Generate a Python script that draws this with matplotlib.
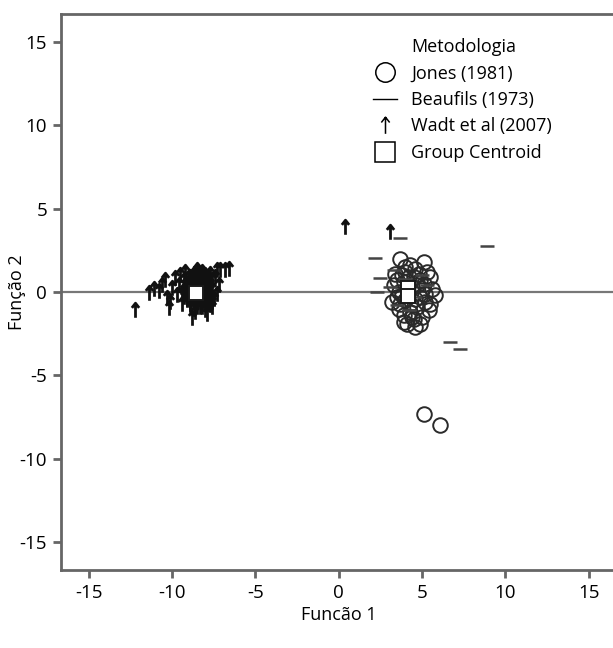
import matplotlib
matplotlib.use("Agg")
import matplotlib.pyplot as plt
from matplotlib.path import Path
from matplotlib.lines import Line2D

plt.rcParams['font.family'] = ['Open Sans', 'DejaVu Sans']
plt.rcParams['axes.unicode_minus'] = False

# Wadt et al (2007) - seta
wadt_x = [-12.2, -11.4, -11.1, -10.8, -10.6, -10.4, -10.3, -10.2, -10.1, -10.0,
          -9.8, -9.7, -9.6, -9.5, -9.4, -9.3, -9.2, -9.1, -8.8, -8.6,
          -7.9, -7.6, -7.3, -7.1, -6.8, -6.6, -7.4, -7.2, -7.5, -7.3,
          -9.0, -9.0, -8.9, -8.9, -8.8, -8.8, -8.7, -8.7, -8.6, -8.6,
          -8.5, -8.5, -8.4, -8.4, -8.3, -8.3, -8.2, -8.2, -8.1, -8.1,
          -8.0, -8.0, -7.9, -7.9, -7.8, -7.8, -7.7, -7.7, -7.6, -7.6,
          -8.6, -8.3, -8.0, -8.8, -7.9, -8.5, -8.2, -9.2, -9.3, -8.95,
          -9.2, -9.1, -9.1, -9.0, -8.9, -8.8, -8.7, -8.7, -8.6, -8.5,
          -8.5, -8.4, -8.4, -8.3, -8.3, -8.2, -8.2, -8.1, -8.1, -8.0,
          -8.0, -7.9, -7.9, -7.8, -7.8, -7.7, -7.7, -9.0, -8.9, -8.6,
          -8.4, -8.0, -7.6, -7.6, -9.3, -9.4,
          0.36, 3.05]
wadt_y = [-1.1, -0.05, 0.2, 0.05, 0.45, 0.75, -0.35, -0.95, -0.6, 0.25,
          0.85, -0.2, 0.45, 1.0, -0.7, 0.1, 1.2, -0.4, -1.55, -1.2,
          -1.3, -0.9, 1.3, 1.35, 1.3, 1.4, 0.9, 0.4, -0.4, -0.1,
          0.6, -0.1, 0.9, -0.8, 0.3, -0.4, 1.1, -1.0, 0.0, 0.6,
          -0.6, 1.3, 0.3, -0.3, 0.9, -0.9, 0.1, 1.2, -0.5, 0.6,
          -1.1, 0.2, 0.9, -0.2, 0.5, -0.7, 1.1, 0.1, -0.4, 0.7,
          -0.3, 0.5, -0.4, 0.0, 0.0, 0.8, -0.7, 0.4, -0.3, 0.2,
          0.0, 0.5, -0.5, 0.9, -0.3, 0.7, -0.6, 0.4, 1.0, -0.9,
          0.2, 0.7, -0.5, 1.1, -0.1, 0.4, -0.9, 0.9, -0.2, 0.6,
          -0.7, 0.3, -0.5, 0.8, -0.1, -0.8, 0.5, 0.2, -0.7, 0.3,
          1.0, 1.0, 0.2, -0.6, 0.7, -0.1,
          3.9, 3.6]

# Jones (1981) - circulo
jones_x = [5.1, 6.05, 3.7, 5.1, 4.0, 4.6, 3.4, 5.3, 4.2, 4.9,
           3.3, 5.6, 3.5, 5.8, 4.0, 5.2, 3.6, 4.7, 5.4, 3.9,
           4.5, 5.0, 4.1, 4.6, 4.4, 3.9, 5.0, 4.3, 3.8, 4.8,
           5.5, 3.2, 5.5, 4.9, 3.9, 4.3, 4.7, 3.6, 4.1, 4.6,
           4.3, 3.8, 5.2, 4.5, 3.7, 4.9, 4.0, 5.1, 4.4, 3.5]
jones_y = [-7.3, -8.0, 2.0, 1.8, 1.5, 1.4, 1.1, 1.2, 0.9, 0.7,
           0.4, 0.2, -0.3, -0.2, -0.5, -0.6, -1.0, -0.9, -1.1, -1.4,
           -1.6, -1.5, -1.9, -2.1, 0.3, 0.6, 0.1, -1.2, 1.0, 1.1,
           0.9, -0.6, -0.7, -1.9, -1.8, 1.6, 0.4, 0.0, 0.2, -0.4,
           -0.7, -0.2, -0.1, 0.9, -0.7, -0.3, 1.2, 0.5, -1.5, 0.7]

# Beaufils (1973) - traco
beau_x = [3.7, 8.9, 2.2, 6.65, 7.3, 2.45, 2.3, 3.3, 4.0, 3.5,
          4.6, 5.0, 3.1, 4.2, 5.3]
beau_y = [3.25, 2.75, 2.05, -3.0, -3.4, 0.85, 0.0, 1.3, 0.8, -0.8,
          -0.3, 1.0, 0.3, -1.1, 0.4]

# centroides
cent_x = [-8.55, 4.15, 4.15]
cent_y = [-0.05, 0.25, -0.25]

arrow = Path([(0, -0.5), (0, 0.5), (-0.25, 0.18), (0, 0.5), (0.25, 0.18)],
             [Path.MOVETO, Path.LINETO, Path.MOVETO, Path.LINETO, Path.LINETO])

fig = plt.figure(figsize=(6.13, 6.48), dpi=100)
ax = fig.add_axes([61 / 613, 78 / 648, 555.4 / 613, 556 / 648])

gray = '#666666'
ax.axhline(0, color='#777777', lw=1.6, zorder=1)

ax.plot(jones_x, jones_y, ls='none', marker='o', ms=10.5, mfc='none',
        mec='#2a2a2a', mew=1.4, zorder=2)
ax.plot(beau_x, beau_y, ls='none', marker='_', ms=10, mec='#444444',
        mew=1.8, zorder=3)
ax.plot(wadt_x, wadt_y, ls='none', marker=arrow, ms=10.5, mfc='none',
        mec='#111111', mew=2.0, zorder=3)
ax.plot(cent_x, cent_y, ls='none', marker='s', ms=9.5, mfc='white',
        mec='#1a1a1a', mew=1.4, zorder=4)

ax.set_xlim(-16.65, 16.65)
ax.set_ylim(-16.68, 16.68)
ax.set_xticks([-15, -10, -5, 0, 5, 10, 15])
ax.set_yticks([-15, -10, -5, 0, 5, 10, 15])
ax.tick_params(direction='out', length=6, width=2, color=gray,
               labelsize=13.5, pad=4)
for s in ax.spines.values():
    s.set_color(gray)
    s.set_linewidth(2)

ax.set_xlabel('Funcão 1', fontsize=13)
ax.set_ylabel('Função 2', fontsize=13)
ax.xaxis.set_label_coords(0.5, (570 - 615) / 556)
ax.xaxis.label.set_va('center')
ax.yaxis.set_label_coords((17 - 61) / 555.4, 0.5)
ax.yaxis.label.set_va('center')

handles = [
    Line2D([], [], ls='none'),
    Line2D([], [], ls='none', marker='o', ms=14, mfc='none', mec='black', mew=1.1),
    Line2D([], [], color='black', lw=1),
    Line2D([], [], ls='none', marker=arrow, ms=12, mfc='none', mec='black', mew=1.1),
    Line2D([], [], ls='none', marker='s', ms=14, mfc='none', mec='black', mew=1.1),
]
labels = ['Metodologia', 'Jones (1981)', 'Beaufils (1973)', 'Wadt et al (2007)',
          'Group Centroid']
ax.legend(handles, labels, loc='upper left', bbox_to_anchor=(373 / 613, 1 - 38 / 648),
          bbox_transform=fig.transFigure, frameon=False, fontsize=13,
          handlelength=1.35, handletextpad=0.78, labelspacing=0.47,
          borderpad=0, borderaxespad=0)

fig.savefig('out.png', dpi=100)
